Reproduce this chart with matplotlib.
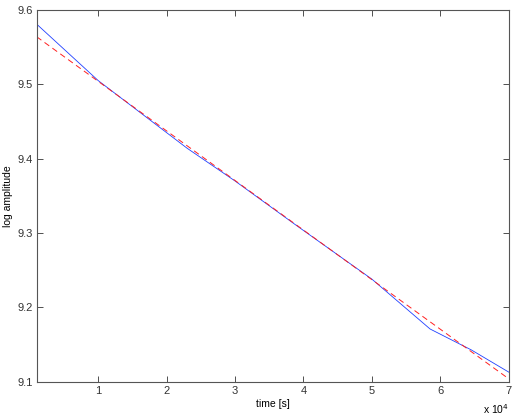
import matplotlib
matplotlib.use("Agg")
import matplotlib.pyplot as plt
import numpy as np

# data (time in seconds)
time_s = [1000, 10000, 23000, 30000, 39000, 50000, 58500, 64500, 70000]
log_amp = [9.581, 9.505, 9.414, 9.370, 9.310, 9.238, 9.171, 9.143, 9.113]
fit_time = [1000, 70000]
fit_vals = [9.564, 9.104]

xticks = [10000, 20000, 30000, 40000, 50000, 60000, 70000]
xticklabels = ["1", "2", "3", "4", "5", "6", "7"]
yticks = [9.1, 9.2, 9.3, 9.4, 9.5, 9.6]

plt.rcParams['font.family'] = ['Liberation Sans', 'DejaVu Sans']

fig = plt.figure(figsize=(5.16, 4.15), dpi=100)
ax = fig.add_axes([0.071, 0.080, 0.915, 0.896])

ax.plot(time_s, log_amp, color='#2040ff', lw=0.6)
ax.plot(fit_time, fit_vals, color='#ff2020', lw=0.7, ls=(0, (6, 4)))

ax.set_xlim(1000, 70000)
ax.set_ylim(9.1, 9.6)
ax.set_xticks(xticks)
ax.set_xticklabels(xticklabels)
ax.set_yticks(yticks)
ax.set_yticklabels([f"{v:.1f}" for v in yticks])
ax.tick_params(direction='in', length=4, width=0.6, labelsize=8, colors='#333333',
               top=True, right=True, pad=3)
for sp in ax.spines.values():
    sp.set_color('#555555')
    sp.set_linewidth(0.8)

ax.set_xlabel('time [s]', fontsize=7.5, labelpad=2)
ax.set_ylabel('log amplitude', fontsize=7.5, labelpad=3)
ax.text(1.0, -0.055, r'x 10$^4$', transform=ax.transAxes, ha='right', va='top',
        fontsize=7.5)

fig.savefig('out.png', dpi=100)
